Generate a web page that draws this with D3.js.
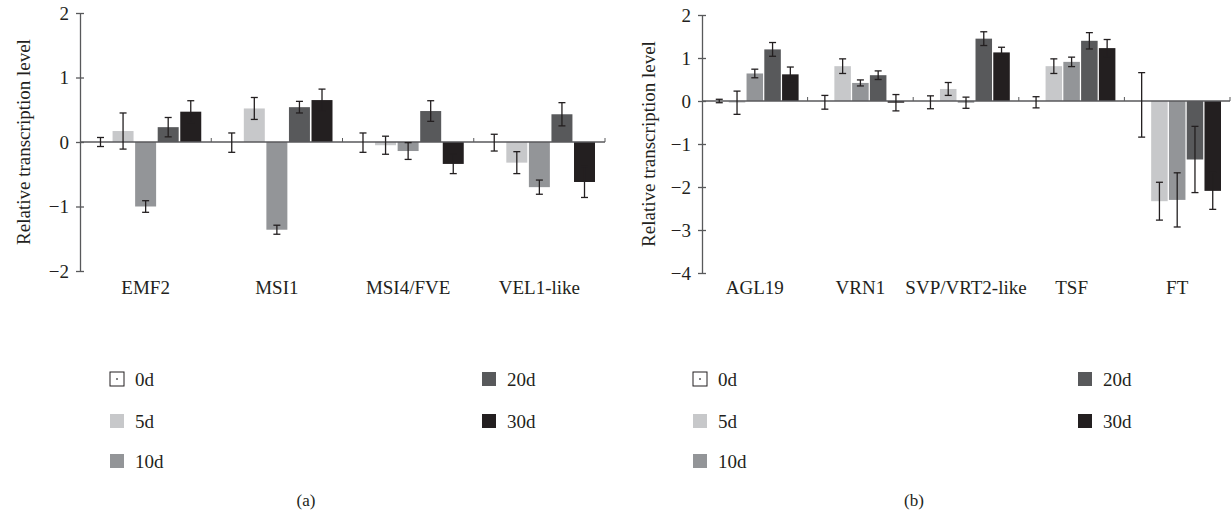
<!DOCTYPE html>
<html>
<head>
<meta charset="utf-8">
<script src="https://d3js.org/d3.v7.min.js"></script>
<style>
    body { margin: 0; background: #fff; }
    svg text { font-family: "Liberation Serif", "DejaVu Serif", serif; fill: #231f20; }
</style>
</head>
<body>
<div id="chart"></div>
<script>
var days = ['0d', '5d', '10d', '20d', '30d'];
var dayColors = ['#ffffff', '#c7c8ca', '#939598', '#58595b', '#231f20'];

var leftGenes = ['EMF2', 'MSI1', 'MSI4/FVE', 'VEL1-like'];
var leftMeans = [
    [0, 0.17, -1.00, 0.23, 0.47],
    [-0.01, 0.52, -1.36, 0.54, 0.65],
    [-0.01, -0.05, -0.14, 0.48, -0.34],
    [-0.01, -0.32, -0.70, 0.43, -0.62]
];
var leftErrors = [
    [0.07, 0.28, 0.09, 0.15, 0.17],
    [0.15, 0.17, 0.07, 0.09, 0.17],
    [0.15, 0.14, 0.13, 0.16, 0.15],
    [0.13, 0.17, 0.11, 0.18, 0.24]
];
var leftTicks = [-2, -1, 0, 1, 2];

var rightGenes = ['AGL19', 'VRN1', 'SVP/VRT2-like', 'TSF', 'FT'];
var rightMeans = [
    [0, -0.04, 0.64, 1.20, 0.62],
    [-0.03, 0.81, 0.42, 0.60, -0.04],
    [-0.03, 0.28, -0.04, 1.45, 1.13],
    [-0.03, 0.81, 0.91, 1.40, 1.23],
    [-0.09, -2.33, -2.30, -1.36, -2.09]
];
var rightErrors = [
    [0.04, 0.27, 0.10, 0.16, 0.17],
    [0.16, 0.17, 0.07, 0.10, 0.19],
    [0.15, 0.15, 0.13, 0.16, 0.12],
    [0.13, 0.17, 0.11, 0.19, 0.20],
    [0.75, 0.44, 0.63, 0.77, 0.43]
];
var rightTicks = [-4, -3, -2, -1, 0, 1, 2];

var W = 1231, H = 512;
var svg = d3.select('#chart').append('svg').attr('width', W).attr('height', H);

function drawPanel(opts) {
    var g = svg.append('g');
    var x = d3.scaleBand().domain(opts.genes).range([opts.x0, opts.x1]);
    var xi = d3.scaleBand().domain(days)
        .range([opts.pad, x.bandwidth() - opts.pad])
        .paddingInner(0.07);
    var y = d3.scaleLinear().domain(d3.extent(opts.ticks)).range([opts.yBottom, opts.yTop]);

    var rows = [];
    opts.genes.forEach(function (gene, gi) {
        days.forEach(function (day, di) {
            rows.push({gene: gene, day: day, di: di, v: opts.means[gi][di], e: opts.errors[gi][di]});
        });
    });

    g.selectAll('rect.bar')
        .data(rows)
        .enter()
        .append('rect')
        .attr('class', 'bar')
        .attr('x', d => x(d.gene) + xi(d.day))
        .attr('width', xi.bandwidth())
        .attr('y', d => y(Math.max(0, d.v)))
        .attr('height', d => Math.abs(y(d.v) - y(0)))
        .attr('fill', d => dayColors[d.di]);

    // zero line with small category separators
    g.append('line')
        .attr('x1', opts.x0).attr('x2', opts.x1)
        .attr('y1', y(0)).attr('y2', y(0))
        .attr('stroke', '#58595b').attr('stroke-width', 1.3);
    g.selectAll('line.sep')
        .data(opts.genes.slice(1).map(gn => x(gn)).concat([opts.x1]))
        .enter()
        .append('line')
        .attr('class', 'sep')
        .attr('x1', d => d).attr('x2', d => d)
        .attr('y1', y(0)).attr('y2', y(0) - 4)
        .attr('stroke', '#58595b').attr('stroke-width', 1);

    // error bars
    var eb = g.selectAll('g.err')
        .data(rows)
        .enter()
        .append('g')
        .attr('class', 'err')
        .attr('transform', d => 'translate(' + (x(d.gene) + xi(d.day) + xi.bandwidth() / 2) + ',0)');
    eb.append('line')
        .attr('y1', d => y(d.v + d.e)).attr('y2', d => y(d.v - d.e))
        .attr('stroke', '#231f20').attr('stroke-width', 1.3);
    eb.append('line')
        .attr('x1', -3.5).attr('x2', 3.5)
        .attr('y1', d => y(d.v + d.e)).attr('y2', d => y(d.v + d.e))
        .attr('stroke', '#231f20').attr('stroke-width', 1.3);
    eb.append('line')
        .attr('x1', -3.5).attr('x2', 3.5)
        .attr('y1', d => y(d.v - d.e)).attr('y2', d => y(d.v - d.e))
        .attr('stroke', '#231f20').attr('stroke-width', 1.3);

    // y axis
    var ax = g.append('g')
        .attr('transform', 'translate(' + opts.x0 + ',0)')
        .call(d3.axisLeft(y).tickValues(opts.ticks).tickFormat(d3.format('d')).tickSize(0).tickPadding(11));
    ax.select('.domain').attr('stroke', '#58595b').attr('stroke-width', 1.3);
    ax.selectAll('.tick line').remove();
    ax.selectAll('.tick').append('line')
        .attr('x1', -4).attr('x2', 4)
        .attr('stroke', '#58595b').attr('stroke-width', 1.3);
    ax.selectAll('.tick text')
        .style('font-family', '"Liberation Serif", serif')
        .style('font-size', '19px')
        .attr('fill', '#231f20');

    g.append('text')
        .attr('transform', 'translate(' + opts.titleX + ',' + (opts.yTop + opts.yBottom) / 2 + ') rotate(-90)')
        .attr('text-anchor', 'middle')
        .attr('dy', '0.35em')
        .style('font-size', '19px')
        .text('Relative transcription level');

    g.selectAll('text.cat')
        .data(opts.genes)
        .enter()
        .append('text')
        .attr('class', 'cat')
        .attr('x', d => x(d) + x.bandwidth() / 2)
        .attr('y', 294)
        .attr('text-anchor', 'middle')
        .style('font-size', '19px')
        .text(d => d);

    // legend
    var leg = g.selectAll('g.leg')
        .data(days)
        .enter()
        .append('g')
        .attr('class', 'leg')
        .attr('transform', (d, i) => 'translate(' + (i < 3 ? opts.legX[0] : opts.legX[1]) + ',' + [379, 421, 461][i % 3] + ')');
    leg.append('rect')
        .attr('x', 0).attr('y', -7)
        .attr('width', 14).attr('height', 14)
        .attr('fill', (d, i) => dayColors[i])
        .attr('stroke', (d, i) => i === 0 ? '#231f20' : 'none')
        .attr('stroke-width', 1);
    leg.filter((d, i) => i === 0).append('circle')
        .attr('cx', 7).attr('cy', 0).attr('r', 1)
        .attr('fill', '#58595b');
    leg.append('text')
        .attr('x', 25).attr('y', 0)
        .attr('dy', '0.35em')
        .style('font-size', '19px')
        .text(d => d);

    g.append('text')
        .attr('x', opts.capX).attr('y', 500)
        .attr('text-anchor', 'middle')
        .attr('dy', '0.35em')
        .style('font-size', '17px')
        .text(opts.caption);
}

drawPanel({
    genes: leftGenes, means: leftMeans, errors: leftErrors, ticks: leftTicks,
    x0: 80, x1: 605, pad: 10, yTop: 13, yBottom: 271,
    titleX: 23, legX: [110, 482], capX: 306, caption: '(a)'
});

drawPanel({
    genes: rightGenes, means: rightMeans, errors: rightErrors, ticks: rightTicks,
    x0: 702, x1: 1230, pad: 9, yTop: 15, yBottom: 273,
    titleX: 648, legX: [693, 1078], capX: 914, caption: '(b)'
});
</script>
</body>
</html>
